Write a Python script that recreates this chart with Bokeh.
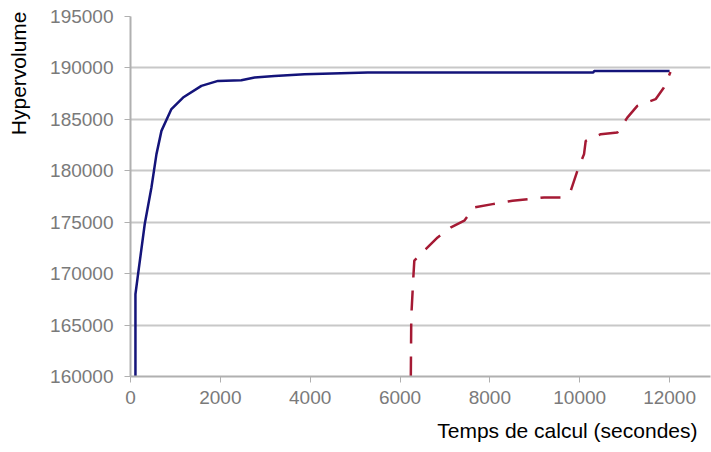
from bokeh.plotting import figure
from bokeh.models import Title, FixedTicker, NumeralTickFormatter
from bokeh.embed import file_html
from bokeh.resources import INLINE

# Data
blue_x = [110, 110, 170, 318, 466, 578, 689, 911, 1170, 1578, 1948, 2467, 2763, 3207, 3874, 5282, 10300, 10320, 12000]
blue_y = [160000, 168000, 170000, 174850, 178380, 181620, 183880, 186000, 187120, 188250, 188740, 188800, 189060, 189220, 189390, 189550, 189550, 189700, 189700]

red_x = [6240, 6250, 6296, 6318, 6578, 6837, 7133, 7430, 7652, 8059, 8504, 9207, 9578, 9800, 9948, 10096, 10133, 10467, 10837, 11059, 11282, 11689, 11874, 12020]
red_y = [160000, 165760, 169640, 171260, 172400, 173520, 174500, 175150, 176440, 176760, 177090, 177410, 177410, 178060, 180000, 181620, 182910, 183560, 183720, 185170, 186310, 186960, 188090, 189600]

x_ticks = [0, 2000, 4000, 6000, 8000, 10000, 12000]
y_ticks = [160000, 165000, 170000, 175000, 180000, 185000, 190000, 195000]

x_title = "Temps de calcul (secondes)"
y_title = "Hypervolume"

p = figure(width=711, height=452, output_backend="svg", toolbar_location=None,
           x_range=(0, 12911), y_range=(160000, 195000),
           min_border_left=129, min_border_top=16, min_border_right=1, min_border_bottom=76)
p.outline_line_color = None
p.background_fill_color = "white"

p.line(blue_x, blue_y, line_color="#14147a", line_width=2.5)
p.line(red_x, red_y, line_color="#a51a34", line_width=2.5, line_dash="20 13")

# axes
p.xaxis.ticker = FixedTicker(ticks=x_ticks)
p.yaxis.ticker = FixedTicker(ticks=y_ticks)
p.xaxis.formatter = NumeralTickFormatter(format="0")
p.yaxis.formatter = NumeralTickFormatter(format="0")
for ax in (p.xaxis[0], p.yaxis[0]):
    ax.axis_line_color = "#b0b0b0"
    ax.axis_line_width = 2
    ax.major_tick_line_color = "#b0b0b0"
    ax.major_tick_line_width = 1
    ax.major_tick_in = 0
    ax.major_tick_out = 6
    ax.minor_tick_line_color = None
    ax.major_label_text_font = "Liberation Sans"
    ax.major_label_text_font_size = "19px"
    ax.major_label_text_color = "#7a7a7a"
p.xaxis.major_label_standoff = 8
p.yaxis.major_label_standoff = 11
# invisible spacer label to push the side title outward
p.yaxis.axis_label = " "
p.yaxis.axis_label_text_font_size = "1px"
p.yaxis.axis_label_standoff = 5
p.xgrid.grid_line_color = None
p.ygrid.grid_line_color = "#c8c8c8"
p.ygrid.grid_line_width = 2

# axis titles
p.add_layout(Title(text=x_title, align="right", offset=13, standoff=21,
                   text_font="Liberation Sans", text_font_size="21px",
                   text_font_style="normal", text_color="black"), "below")
p.add_layout(Title(text=y_title, align="right", offset=-5, standoff=12,
                   vertical_align="top",
                   text_font="Liberation Sans", text_font_size="21px",
                   text_font_style="normal", text_color="black"), "left")

open("out.html", "w").write(file_html(p, INLINE))
